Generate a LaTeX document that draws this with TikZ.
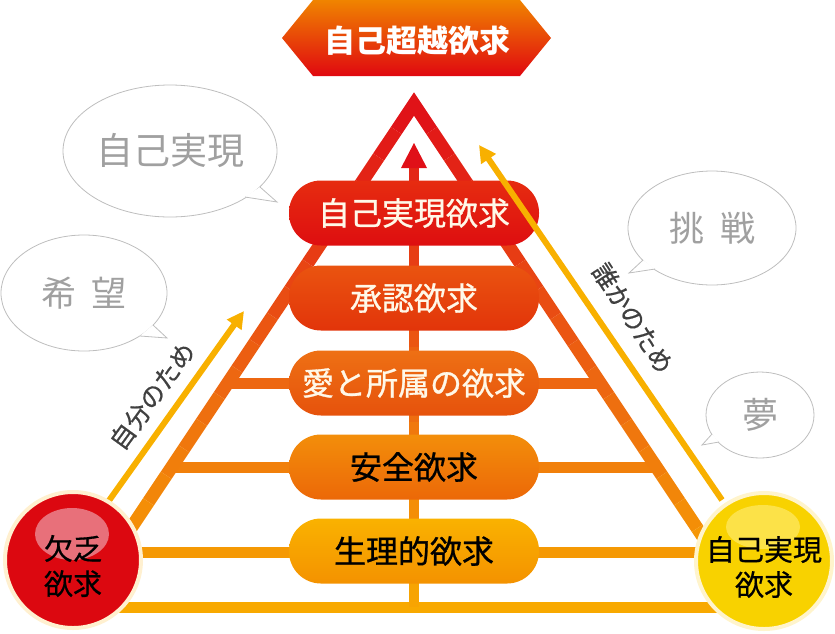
\documentclass[tikz,border=0pt]{standalone}
\usepackage{fontspec}
\setmainfont{Noto Sans CJK JP}
\newfontfamily\pillfont{Noto Sans CJK JP}[FakeBold=0.9]
\newfontfamily\labfont{Noto Sans CJK JP}[FakeBold=0.6]
\usetikzlibrary{arrows.meta,calc,shapes.geometric}
\definecolor{cR}{RGB}{224,16,24}
\definecolor{cO}{RGB}{238,108,16}
\definecolor{cY}{RGB}{248,170,0}
\definecolor{arrY}{RGB}{248,176,0}
\definecolor{bubG}{RGB}{190,190,190}
\definecolor{bubT}{RGB}{160,160,160}
\definecolor{labG}{RGB}{64,64,64}
\definecolor{cream}{RGB}{255,248,232}
\definecolor{p1t}{RGB}{230,44,16}\definecolor{p1b}{RGB}{222,14,16}
\definecolor{p2t}{RGB}{234,84,16}\definecolor{p2b}{RGB}{226,52,10}
\definecolor{p3t}{RGB}{238,112,20}\definecolor{p3b}{RGB}{230,82,12}
\definecolor{p4t}{RGB}{243,142,10}\definecolor{p4b}{RGB}{236,104,8}
\definecolor{p5t}{RGB}{250,178,0}\definecolor{p5b}{RGB}{244,146,0}
\definecolor{lcf}{RGB}{220,8,16}\definecolor{lcd}{RGB}{255,240,208}\definecolor{lch}{RGB}{232,112,122}
\definecolor{rcf}{RGB}{248,210,0}\definecolor{rcd}{RGB}{255,244,204}\definecolor{rch}{RGB}{252,226,72}
\definecolor{ttop}{RGB}{240,132,0}\definecolor{tbot}{RGB}{224,8,16}
\newcommand\pyrcol[2]{%
  \pgfmathtruncatemacro\pyrisup{#1<400 ? 1 : 0}%
  \pgfmathsetmacro\pyrpp{#1<400 ? max(0,min(100,(#1-110)/2.9)) : max(0,min(100,(#1-400)/2.1))}%
  \ifnum\pyrisup=1 \colorlet{#2}{cO!\pyrpp!cR}\else\colorlet{#2}{cY!\pyrpp!cO}\fi}
\begin{document}
\begin{tikzpicture}[x=1pt,y=-1pt,
  pyrpill/.style={rectangle, rounded corners=32pt, minimum width=250pt, minimum height=65pt, inner sep=0pt, font=\pillfont\fontsize{32}{32}\selectfont},
  bubblebox/.style={ellipse, draw=bubG, line width=0.8pt, fill=white, inner sep=0pt, text=bubT},
  arrlabel/.style={text=labG, font=\labfont\fontsize{25}{25}\selectfont, inner sep=0pt},
  yarrow/.style={draw=arrY, line width=6pt, -{Triangle[length=17pt,width=17pt]}},
  bigdisc/.style={circle, minimum size=136pt, inner sep=0pt, line width=4pt},
  disctext/.style={align=center, font=\labfont\fontsize{29}{35}\selectfont, text=black, inner sep=0pt}
]
\useasboundingbox (0,0) rectangle (835,633);

% ---------- speech bubbles ----------
\node[bubblebox, minimum width=214pt, minimum height=132pt, font=\fontsize{37}{37}\selectfont] (b1) at (170,151) {自己実現};
\fill[white] (260,187) -- (277,202) -- (245,197) -- cycle;
\draw[bubG, line width=0.8pt, line join=miter] (260,187) -- (277,202) -- (245,197);

\node[bubblebox, minimum width=166pt, minimum height=116pt, font=\fontsize{35}{35}\selectfont] (b2) at (84,293) {希\hspace{16pt}望};
\fill[white] (153,325) -- (167,338) -- (140,336) -- cycle;
\draw[bubG, line width=0.8pt, line join=miter] (153,325) -- (167,338) -- (140,336);

\node[bubblebox, minimum width=168pt, minimum height=114pt, font=\fontsize{35}{35}\selectfont] (b3) at (712,228) {挑\hspace{16pt}戦};
\fill[white] (643,260) -- (629,273) -- (655,269) -- cycle;
\draw[bubG, line width=0.8pt, line join=miter] (643,260) -- (629,273) -- (655,269);

\node[bubblebox, minimum width=108pt, minimum height=86pt, font=\fontsize{36}{36}\selectfont] (b4) at (760,415) {夢};
\fill[white] (712,434) -- (702,445) -- (719,442) -- cycle;
\draw[bubG, line width=0.8pt, line join=miter] (712,434) -- (702,445) -- (719,442);

% ---------- pyramid frame ----------
\coordinate (apex) at (414,104);
\coordinate (bl) at (119,546);
\coordinate (br) at (709,546);
\coordinate (vbot) at (414,607);
\coordinate (vtop) at (414,162);

% horizontal lines
\foreach \yy in {383,467,552,607} {
  \pyrcol{\yy}{hc}
  \pgfmathsetmacro\htt{(\yy-104)/442}
  \draw[hc, line width=11pt] ($(apex)!\htt!(bl)$) -- ($(apex)!\htt!(br)$);
}
% vertical line
\foreach \k in {0,...,11} {
  \pgfmathsetmacro\ta{\k/12}
  \pgfmathsetmacro\tb{(\k+1.02)/12}
  \pgfmathsetmacro\ym{607-(\k+0.5)/12*445}
  \pyrcol{\ym}{vc}
  \draw[vc, line width=10pt] ($(vbot)!\ta!(vtop)$) -- ($(vbot)!\tb!(vtop)$);
}
\coordinate (atip) at (414,143);
\fill[cR] (atip) -- ($(atip)+(-13,25)$) -- ($(atip)+(13,25)$) -- cycle;

% diagonals
\pyrcol{118}{dc}
\draw[dc, line width=13pt, line join=miter] ($(apex)!0.06!(bl)$) -- (apex) -- ($(apex)!0.06!(br)$);
\foreach \k in {1,...,17} {
  \pgfmathsetmacro\ta{(\k)*0.06}
  \pgfmathsetmacro\tb{min(1,(\k+1)*0.06)}
  \pgfmathsetmacro\ym{104+(\k+0.5)*0.06*442}
  \pyrcol{\ym}{dc}
  \draw[dc, line width=13pt] ($(apex)!\ta!(bl)$) -- ($(apex)!\tb!(bl)$);
  \draw[dc, line width=13pt] ($(apex)!\ta!(br)$) -- ($(apex)!\tb!(br)$);
}

% ---------- pills ----------
\node[pyrpill, top color=p1t, bottom color=p1b, text=cream] (p1) at (414,213) {自己実現欲求};
\node[pyrpill, top color=p2t, bottom color=p2b, text=cream] (p2) at (414,298) {承認欲求};
\node[pyrpill, top color=p3t, bottom color=p3b, text=cream] (p3) at (414,383) {愛と所属の欲求};
\node[pyrpill, top color=p4t, bottom color=p4b, text=black] (p4) at (414,467) {安全欲求};
\node[pyrpill, top color=p5t, bottom color=p5b, text=black] (p5) at (414,551) {生理的欲求};

% ---------- side arrows ----------
\coordinate (lsrc) at (108,502);
\coordinate (ltip) at (244,311);
\coordinate (rsrc) at (722,500);
\coordinate (rtip) at (479,145);
\draw[yarrow] (lsrc) -- (ltip);
\draw[yarrow] (rsrc) -- (rtip);
\node[arrlabel, rotate=54] (lt) at (152,396) {自分のため};
\node[arrlabel, rotate=-57] (rt) at (633,318) {誰かのため};

% ---------- circles ----------
\node[bigdisc, fill=lcf, draw=lcd] (lc) at (73,560) {};
\fill[lch] (72,534) ellipse [x radius=37, y radius=26];
\node[disctext] (lct) at (73,566) {欠乏\\欲求};

\node[bigdisc, fill=rcf, draw=rcd] (rc) at (764,561) {};
\fill[rch] (763,527) ellipse [x radius=37, y radius=22];
\node[disctext] (rct) at (764,567) {自己実現\\欲求};

% ---------- title ----------
\shade[top color=ttop, bottom color=tbot]
  (282,38) -- (313,0) -- (520,0) -- (551,38) -- (520,76) -- (313,76) -- cycle;
\node[text=white, font=\bfseries\fontsize{31}{31}\selectfont, inner sep=0pt] (title) at (417,41) {自己超越欲求};
\end{tikzpicture}
\end{document}
